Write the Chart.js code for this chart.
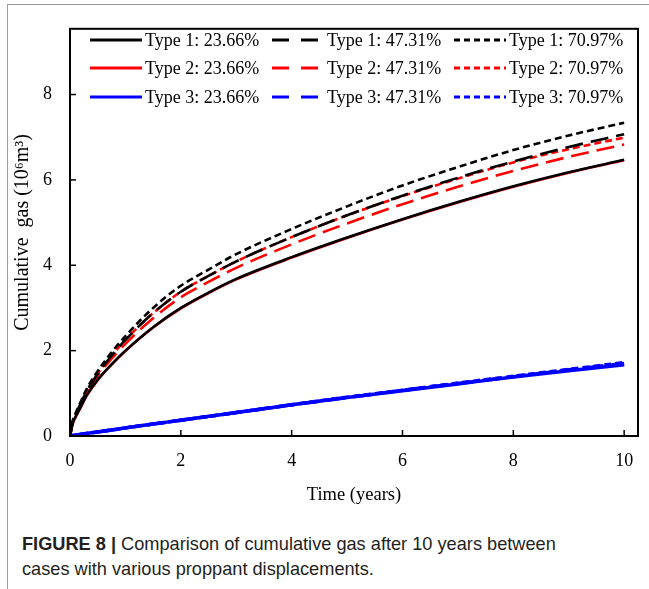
<!DOCTYPE html>
<html>
<head>
<meta charset="utf-8">
<script src="https://cdn.jsdelivr.net/npm/chart.js@4.4.1/dist/chart.umd.min.js"></script>
<style>
  html, body { margin: 0; padding: 0; background: #fff; }
  #wrap { position: relative; width: 649px; height: 589px; overflow: hidden; }
  #frame { position: absolute; left: 7px; top: 4px; width: 660px; height: 600px;
           border-left: 1px solid #9c9c9c; border-top: 1px solid #9c9c9c; }
  #box { position: absolute; left: 0; top: 0; width: 649px; height: 510px; }
  #caption { position: absolute; left: 22px; top: 532px; font-family: "Liberation Sans", Arial, sans-serif;
             font-size: 18.2px; line-height: 25px; color: #231f20; }
  #caption b { font-weight: bold; }
</style>
</head>
<body>
<div id="wrap">
  <div id="frame"></div>
  <div id="box"><canvas id="grafic"></canvas></div>
  <div id="caption"><b>FIGURE 8 |</b> Comparison of cumulative gas after 10 years between<br>cases with various proppant displacements.</div>
</div>
<script>
// time axis (years)
const years = [0, 0.05, 0.1, 0.2, 0.3, 0.5, 0.75, 1, 1.5, 2, 2.5, 3, 4, 5, 6, 7, 8, 9, 10];

// cumulative gas, 10^6 m3
const type1Low  = [0, 0.30, 0.45, 0.70, 0.95, 1.32, 1.68, 2.00, 2.55, 3.00, 3.36, 3.68, 4.19, 4.65, 5.08, 5.48, 5.85, 6.18, 6.47];
const type1Mid  = [0, 0.34, 0.50, 0.78, 1.05, 1.46, 1.88, 2.25, 2.88, 3.38, 3.75, 4.09, 4.66, 5.17, 5.63, 6.05, 6.43, 6.77, 7.07];
const type1High = [0, 0.36, 0.53, 0.82, 1.10, 1.52, 1.96, 2.34, 3.00, 3.52, 3.90, 4.26, 4.85, 5.38, 5.87, 6.30, 6.70, 7.04, 7.34];
const type2Low  = [0, 0.29, 0.44, 0.69, 0.94, 1.31, 1.67, 1.99, 2.54, 2.99, 3.35, 3.67, 4.18, 4.64, 5.07, 5.47, 5.84, 6.17, 6.46];
const type2Mid  = [0, 0.33, 0.48, 0.75, 1.01, 1.41, 1.81, 2.16, 2.76, 3.25, 3.61, 3.94, 4.49, 4.98, 5.43, 5.84, 6.21, 6.54, 6.83];
const type2High = [0, 0.34, 0.50, 0.78, 1.05, 1.46, 1.88, 2.25, 2.88, 3.38, 3.75, 4.09, 4.66, 5.17, 5.62, 6.03, 6.41, 6.72, 6.99];
const type3Low  = [0, 0.01, 0.02, 0.04, 0.06, 0.095, 0.14, 0.19, 0.28, 0.37, 0.46, 0.55, 0.73, 0.90, 1.06, 1.22, 1.38, 1.53, 1.67];
const type3Mid  = [0, 0.01, 0.02, 0.04, 0.06, 0.095, 0.14, 0.19, 0.28, 0.37, 0.46, 0.55, 0.73, 0.90, 1.07, 1.23, 1.39, 1.55, 1.70];
const type3High = [0, 0.01, 0.02, 0.04, 0.06, 0.095, 0.14, 0.19, 0.28, 0.37, 0.46, 0.55, 0.73, 0.91, 1.07, 1.24, 1.40, 1.56, 1.72];

const labels = [
  'Type 1: 23.66%', 'Type 1: 47.31%', 'Type 1: 70.97%',
  'Type 2: 23.66%', 'Type 2: 47.31%', 'Type 2: 70.97%',
  'Type 3: 23.66%', 'Type 3: 47.31%', 'Type 3: 70.97%'
];
const series = [type1Low, type1Mid, type1High, type2Low, type2Mid, type2High, type3Low, type3Mid, type3High];
const culori = ['#000000', '#ff0000', '#0000ff'];
const dashes = [[], [18, 8], [7, 4]];

const serif = '"Liberation Serif", "Times New Roman", serif';

// blue on top, then black, then red (lower order = drawn last)
const ordine = [1, 1, 1, 2, 2, 2, 0, 0, 0];

const datasets = series.map((vals, i) => ({
  label: labels[i],
  data: years.map((t, k) => ({ x: t, y: vals[k] })),
  borderColor: culori[Math.floor(i / 3)],
  borderDash: dashes[i % 3],
  borderWidth: i >= 6 ? 3.5 : 2.6,
  pointRadius: 0,
  fill: false,
  cubicInterpolationMode: 'monotone',
  order: ordine[i]
}));

// frame, inward ticks, legend
const cadru = {
  id: 'cadru',
  afterDatasetsDraw(chart) {
    const { ctx, chartArea: a, scales } = chart;
    ctx.save();
    ctx.strokeStyle = '#000';
    ctx.lineWidth = 2;
    ctx.setLineDash([]);
    ctx.strokeRect(a.left, a.top, a.right - a.left, a.bottom - a.top);
    ctx.lineWidth = 1.5;
    scales.x.ticks.forEach((t) => {
      const px = scales.x.getPixelForValue(t.value);
      ctx.beginPath(); ctx.moveTo(px, a.bottom); ctx.lineTo(px, a.bottom - 6); ctx.stroke();
    });
    scales.y.ticks.forEach((t) => {
      const py = scales.y.getPixelForValue(t.value);
      ctx.beginPath(); ctx.moveTo(a.left, py); ctx.lineTo(a.left + 6, py); ctx.stroke();
    });

    // legend 3 x 3
    const colX = [90, 272, 454];
    const rowY = [40, 68, 97];
    ctx.font = '18px ' + serif;
    ctx.textBaseline = 'middle';
    ctx.fillStyle = '#000';
    chart.data.datasets.forEach((ds, i) => {
      const r = Math.floor(i / 3), c = i % 3;
      const x = colX[c], y = rowY[r];
      ctx.strokeStyle = ds.borderColor;
      ctx.lineWidth = 3;
      ctx.setLineDash(c === 1 ? [17, 12] : c === 2 ? [6, 4] : []);
      ctx.beginPath(); ctx.moveTo(x, y); ctx.lineTo(x + 52, y); ctx.stroke();
      ctx.setLineDash([]);
      ctx.fillText(ds.label, x + 55, y + 1);
    });
    ctx.restore();
  }
};

new Chart(document.getElementById('grafic'), {
  type: 'line',
  data: { datasets },
  options: {
    responsive: true,
    maintainAspectRatio: false,
    animation: false,
    layout: { padding: { left: 0, top: 22, right: 11, bottom: 0 } },
    plugins: { legend: { display: false }, tooltip: { enabled: false } },
    scales: {
      x: {
        type: 'linear',
        min: 0,
        max: 10.25,
        afterFit: (s) => { s.height = 74; },
        ticks: { stepSize: 2, includeBounds: false, color: '#000', padding: 14,
                 font: { family: serif, size: 18 } },
        grid: { display: false, drawTicks: false },
        border: { display: false },
        title: { display: true, text: 'Time (years)', color: '#000', padding: { top: 2 },
                 font: { family: serif, size: 18.5 } }
      },
      y: {
        min: 0,
        max: 9.54,
        afterFit: (s) => { s.width = 70; },
        ticks: { stepSize: 2, includeBounds: false, color: '#000', padding: 18,
                 font: { family: serif, size: 18 } },
        grid: { display: false, drawTicks: false },
        border: { display: false },
        title: { display: true, text: 'Cumulative  gas (10\u2076m\u00b3)', color: '#000', padding: { top: 11, bottom: 4 },
                 font: { family: serif, size: 20 } }
      }
    }
  },
  plugins: [cadru]
});
</script>
</body>
</html>
